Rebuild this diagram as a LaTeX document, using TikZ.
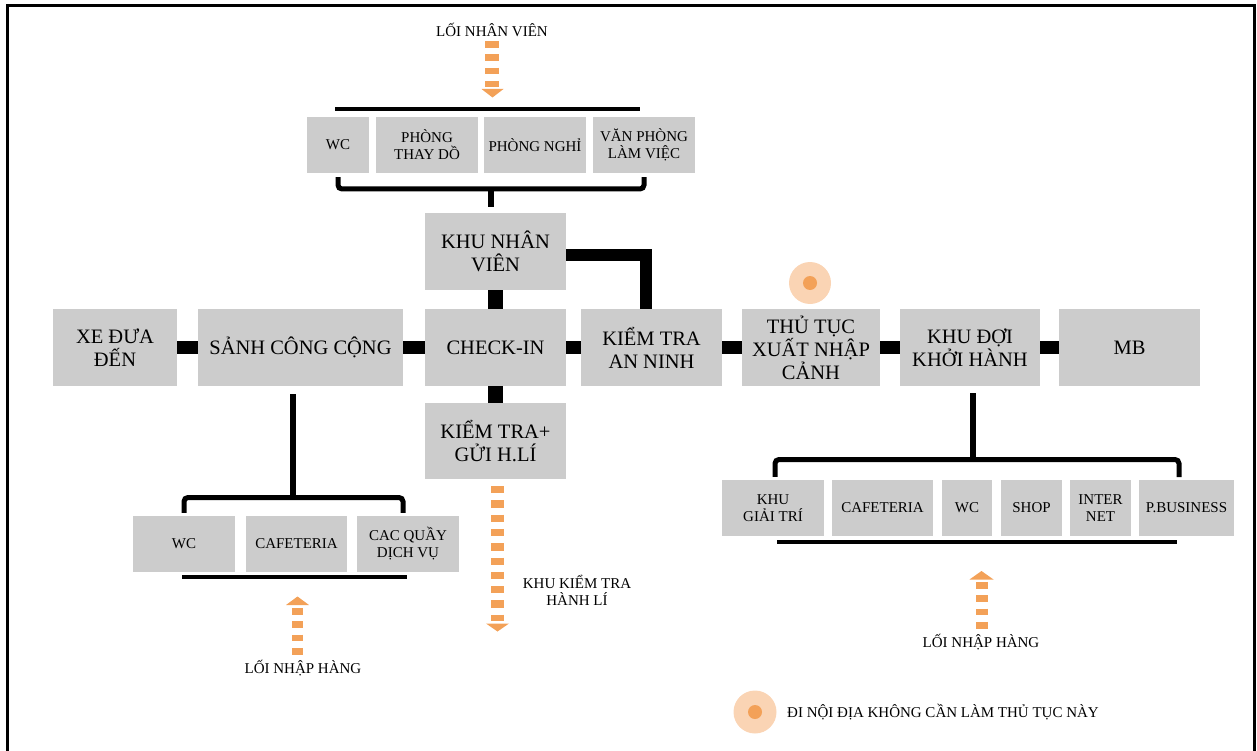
\documentclass[tikz,border=0pt]{standalone}
\usepackage{fontspec}
\setmainfont{Liberation Serif}
\definecolor{boxgray}{RGB}{204,204,204}
\definecolor{orng}{RGB}{243,161,88}
\definecolor{peach}{RGB}{250,212,180}
\newcommand\bigfs{\fontsize{20.5}{23}\selectfont}
\newcommand\smallfs{\fontsize{15}{17}\selectfont}
\tikzset{
  mainbox/.style={fill=boxgray, inner sep=0pt, align=center, font=\bigfs, minimum height=77},
  subbox/.style={fill=boxgray, inner sep=0pt, align=center, font=\smallfs, minimum height=56},
  link/.style={draw=black, line width=13},
  bar/.style={draw=black, line width=4.5},
  brk/.style={draw=black, line width=5, rounded corners=4},
  lbl/.style={font=\smallfs, align=center, inner sep=0pt},
  dashcol/.style={draw=orng, line width=#1, dash pattern=on 6.8 off 6.5},
}
\begin{document}
\begin{tikzpicture}[x=1pt,y=-1pt]
\useasboundingbox (0,0) rectangle (1257,751);
\begin{scope}
\clip (0,0) rectangle (1257,751);
\draw[line width=3.5] (7.5,5.5) rectangle (1254.5,780);
\end{scope}

% main row
\node[mainbox, minimum width=124] (xe) at (115,347.5) {XE ĐƯA\\ĐẾN};
\node[mainbox, minimum width=205] (sanh) at (300.5,347.5) {SẢNH CÔNG CỘNG};
\node[mainbox, minimum width=141] (ci) at (495.5,347.5) {CHECK-IN};
\node[mainbox, minimum width=141] (knv) at (495.5,251.5) {KHU NHÂN\\VIÊN};
\node[mainbox, minimum width=141, minimum height=76] (ktg) at (495.5,441) {KIỂM TRA+\\GỬI H.LÍ};
\node[mainbox, minimum width=141] (ktan) at (651.5,347.5) {KIỂM TRA\\AN NINH};
\node[mainbox, minimum width=138] (tt) at (811,347.5) {THỦ TỤC\\XUẤT NHẬP\\CẢNH};
\node[mainbox, minimum width=140] (kd) at (970,347.5) {KHU ĐỢI\\KHỞI HÀNH};
\node[mainbox, minimum width=141] (mb) at (1129.5,347.5) {MB};

\draw[link] (xe) -- (sanh);
\draw[link] (sanh) -- (ci);
\draw[link] (ci) -- (ktan);
\draw[link] (ktan) -- (tt);
\draw[link] (tt) -- (kd);
\draw[link] (kd) -- (mb);
\draw[draw=black, line width=15] (ci.north) -- (knv.south);
\draw[draw=black, line width=15] (ci.south) -- (ktg.north);
\draw[draw=black, line width=11.5] ([yshift=-3.5]knv.east) -| ([xshift=-5.5]ktan.north);

% legend dot over THU TUC
\node[circle, fill=peach, minimum size=42, inner sep=0pt] (dot1) at (810,283) {};
\node[circle, fill=orng, minimum size=14, inner sep=0pt] at (dot1.center) {};

% staff group (top)
\node[subbox, minimum width=62] (t1) at (338,145) {WC};
\node[subbox, minimum width=102] (t2) at (427,145) {PHÒNG\\THAY DỒ};
\node[subbox, minimum width=102] (t3) at (535,145) {PHÒNG NGHỈ};
\node[subbox, minimum width=102] (t4) at (644,145) {VĂN PHÒNG\\LÀM VIỆC};
\coordinate (tbar1) at (335,109);
\coordinate (tbar2) at (640,109);
\draw[bar] (tbar1) -- (tbar2);
\coordinate (tbk) at (491,189);
\draw[brk] ([yshift=-4]t1.south) -- (t1.south |- tbk) -- (t4.south |- tbk) -- ([yshift=-4]t4.south);
\draw[draw=black, line width=5.5] (tbk) -- ([yshift=6]tbk |- knv.north);

\node[lbl] (lnv) at (492,30) {LỐI NHÂN VIÊN};
\draw[dashcol=14] (492,41) -- (492,87);
\fill[orng] (481.5,89) -- (503.5,89) -- (492.5,97.5) -- cycle;

% public hall group (bottom left)
\node[subbox, minimum width=102] (b1) at (184,544) {WC};
\node[subbox, minimum width=101] (b2) at (296.5,544) {CAFETERIA};
\node[subbox, minimum width=102] (b3) at (408,544) {CAC QUẦY\\DỊCH VỤ};
\coordinate (bbk) at (293,497.5);
\draw[draw=black, line width=5.5] ([yshift=-8]sanh.south -| bbk) -- (bbk);
\draw[brk] ([yshift=3]b1.north) -- (b1.north |- bbk) -- ([xshift=-5]b3.north |- bbk) -- ([xshift=-5,yshift=3]b3.north);
\coordinate (bl1) at (182,577);
\coordinate (bl2) at (407,577);
\draw[bar] (bl1) -- (bl2);
\fill[orng] (286,605) -- (309,605) -- (297.5,596.5) -- cycle;
\draw[dashcol=11.5] (297.5,608) -- (297.5,654.5);
\node[lbl] (lnh1) at (303,668) {LỐI NHẬP HÀNG};

% baggage arrow
\draw[dashcol=13, dash pattern=on 7.3 off 7] (497.5,486) -- (497.5,620.5);
\fill[orng] (486,623.5) -- (509,623.5) -- (497.5,631.5) -- cycle;
\node[lbl] (kkt) at (577,590.5) {KHU KIỂM TRA\\HÀNH LÍ};

% departure lounge group (right)
\node[subbox, minimum width=102] (r1) at (773,508) {KHU\\GIẢI TRÍ};
\node[subbox, minimum width=101] (r2) at (882.5,508) {CAFETERIA};
\node[subbox, minimum width=50] (r3) at (967,508) {WC};
\node[subbox, minimum width=61] (r4) at (1031.5,508) {SHOP};
\node[subbox, minimum width=61] (r5) at (1100.5,508) {INTER\\NET};
\node[subbox, minimum width=95] (r6) at (1186.5,508) {P.BUSINESS};
\coordinate (rbk) at (973,459.5);
\draw[draw=black, line width=5.5] ([yshift=-7]kd.south -| rbk) -- (rbk);
\draw[brk] ([xshift=2,yshift=3]r1.north) -- ([xshift=2]r1.north |- rbk) -- (1179,459.5) -- (1179,477);
\coordinate (rl1) at (777,542);
\coordinate (rl2) at (1177,542);
\draw[bar] (rl1) -- (rl2);
\fill[orng] (969.5,579.5) -- (993.5,579.5) -- (981.5,571) -- cycle;
\draw[dashcol=12] (982,582) -- (982,628.5);
\node[lbl] (lnh2) at (981,642) {LỐI NHẬP HÀNG};

% legend
\node[circle, fill=peach, minimum size=43, inner sep=0pt] (dot2) at (755,712) {};
\node[circle, fill=orng, minimum size=14, inner sep=0pt] at (dot2.center) {};
\node[lbl, anchor=west] (leg) at (787,712) {ĐI NỘI ĐỊA KHÔNG CẦN LÀM THỦ TỤC NÀY};
\end{tikzpicture}
\end{document}
